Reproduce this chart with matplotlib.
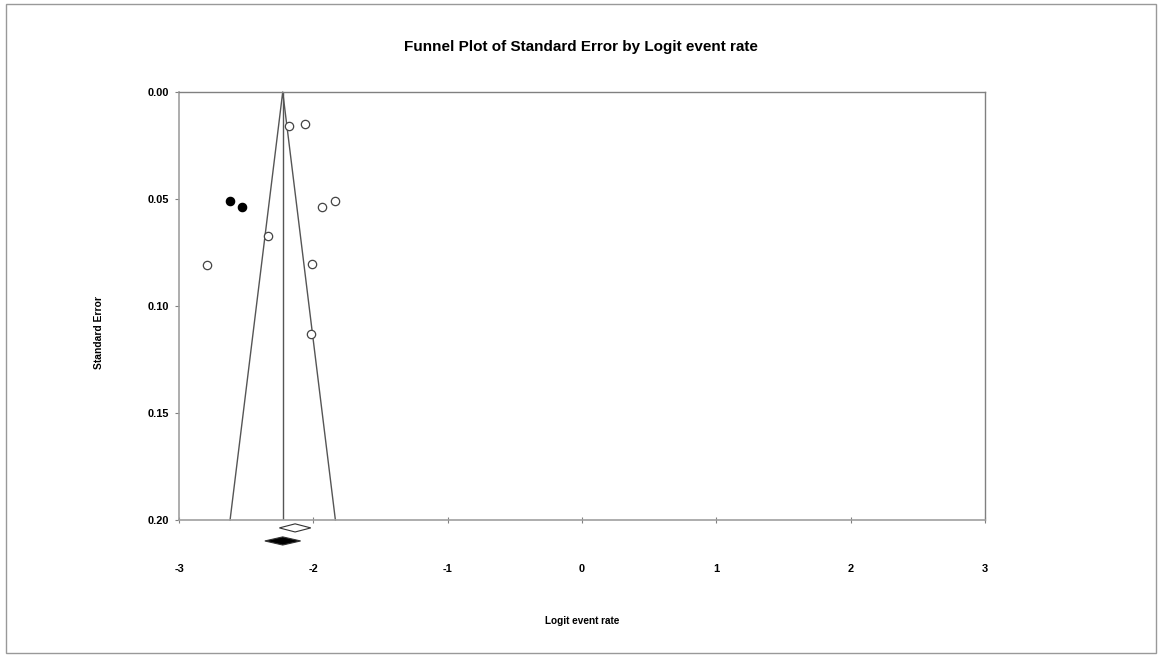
import numpy as np
import matplotlib.pyplot as plt
from matplotlib.patches import Polygon, Rectangle

plt.rcParams['font.family'] = ['Liberation Sans', 'DejaVu Sans']

# observed studies
obs_logit = [-2.181, -2.064, -1.933, -1.838, -2.335, -2.794, -2.010, -2.017]
obs_se = [0.0157, 0.0150, 0.0539, 0.0511, 0.0673, 0.0807, 0.0805, 0.1129]

# imputed studies (trim and fill)
imp_logit = [-2.620, -2.529]
imp_se = [0.0511, 0.0539]

# pooled estimates: point, lower, upper
obs_pooled = [-2.136, -2.253, -2.019]
adj_pooled = [-2.228, -2.361, -2.095]

x_ticks = [-3, -2, -1, 0, 1, 2, 3]
y_ticks = [0.00, 0.05, 0.10, 0.15, 0.20]
se_max = 0.20

fig = plt.figure(figsize=(11.58, 6.63), dpi=100)
ax = fig.add_axes([0.1546, 0.2157, 0.696, 0.6455])

# funnel
c = adj_pooled[0]
line_col = '#555555'
ax.plot([c - 1.96 * se_max, c, c + 1.96 * se_max], [se_max, 0, se_max],
        color=line_col, lw=1.0, clip_on=False)
ax.plot([c, c], [0, se_max], color=line_col, lw=1.0)

ax.plot(obs_logit, obs_se, 'o', ms=6, mfc='white', mec='#444444', mew=0.9,
        clip_on=False)
ax.plot(imp_logit, imp_se, 'o', ms=6, mfc='black', mec='black', mew=0.9)

# diamonds below the axis
def diamond(est, y, h, face):
    pts = [(est[1], y), (est[0], y - h), (est[2], y), (est[0], y + h)]
    p = Polygon(pts, closed=True, facecolor=face, edgecolor='#333333', lw=0.8,
                clip_on=False)
    ax.add_patch(p)

diamond(obs_pooled, 0.2037, 0.0019, 'white')
diamond(adj_pooled, 0.2098, 0.0019, 'black')

ax.set_xlim(-3, 3)
ax.set_ylim(se_max, 0)
ax.set_xticks(x_ticks)
ax.set_xticklabels([str(v) for v in x_ticks])
ax.set_yticks(y_ticks)
ax.set_yticklabels(['%.2f' % v for v in y_ticks])

for s in ['left', 'bottom']:
    ax.spines[s].set_color('#a0a0a0')
    ax.spines[s].set_linewidth(1.2)
for s in ['top', 'right']:
    ax.spines[s].set_color('#808080')
    ax.spines[s].set_linewidth(1.0)

ax.tick_params(axis='x', direction='inout', length=4, width=0.8,
               color='#808080', pad=30, labelsize=7.9)
ax.tick_params(axis='y', direction='out', length=3, width=0.8,
               color='#808080', pad=4, labelsize=7.9)
for lab in ax.get_xticklabels() + ax.get_yticklabels():
    lab.set_fontweight('bold')

fig.text(0.5017, 0.929, 'Funnel Plot of Standard Error by Logit event rate',
         ha='center', va='center', fontsize=11.0, fontweight='bold')
fig.text(0.5026, 0.063, 'Logit event rate', ha='center', va='center',
         fontsize=7.2, fontweight='bold')
fig.text(0.0855, 0.499, 'Standard Error', ha='center', va='center',
         fontsize=7.4, fontweight='bold', rotation=90)

# outer frame
W, H = 1158, 663
fig.patches.append(Rectangle((6 / W, 1 - 653 / H), 1150 / W, 649 / H,
                             transform=fig.transFigure, fill=False,
                             edgecolor='#999999', lw=1.0))

fig.savefig('out.png', dpi=100)
